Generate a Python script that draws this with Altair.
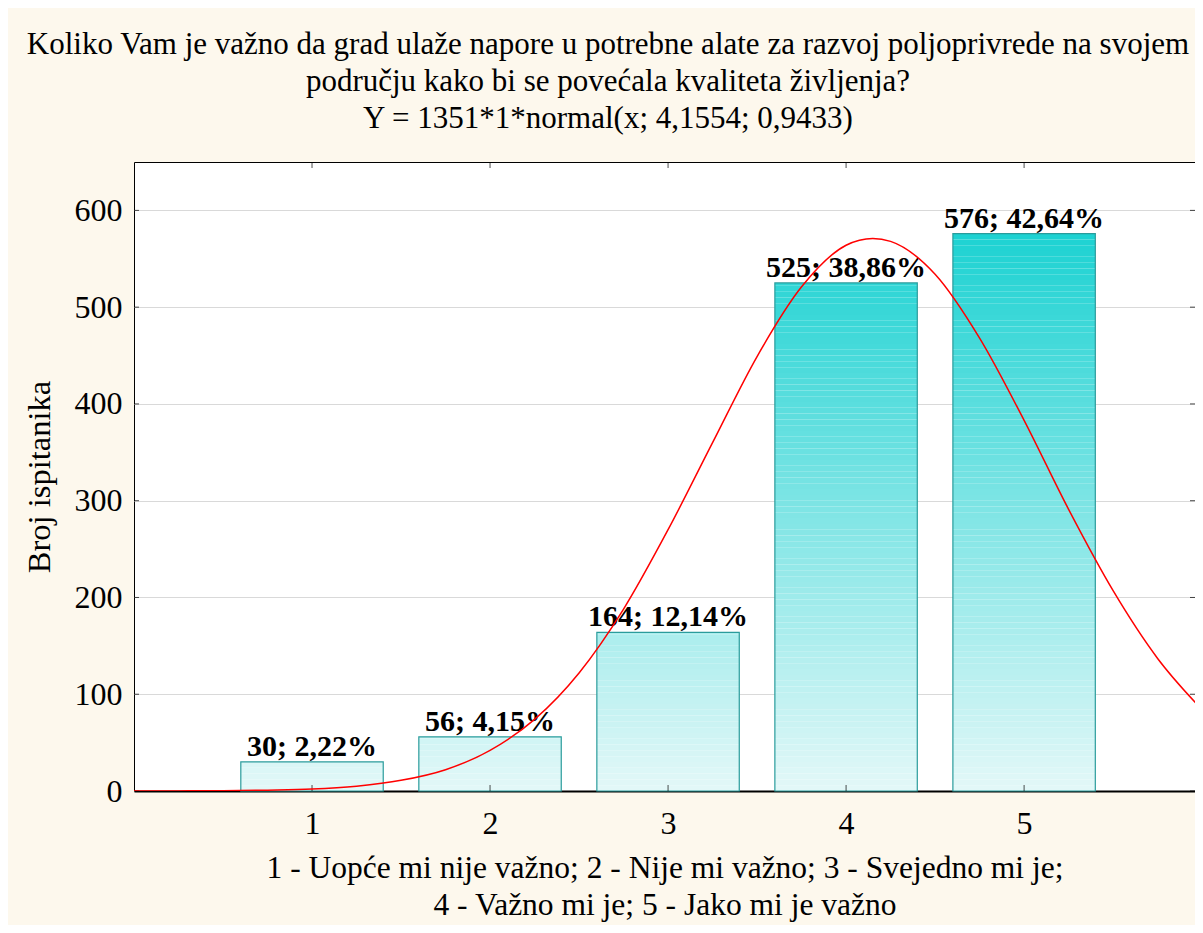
import altair as alt
import pandas as pd

# ---- data ----
categories = [1, 2, 3, 4, 5]
counts = [30, 56, 164, 525, 576]
bar_labels = ["30; 2,22%", "56; 4,15%", "164; 12,14%", "525; 38,86%", "576; 42,64%"]
y_ticks = [0, 100, 200, 300, 400, 500, 600]

# fitted normal curve as drawn (estimated points)
curve_x = [0, 0.25, 0.5, 0.75, 1, 1.25, 1.5, 1.75, 2, 2.25, 2.5, 2.75, 3, 3.25,
           3.5, 3.75, 4, 4.15, 4.25, 4.5, 4.75, 5, 5.25, 5.5, 5.75, 6]
curve_y = [0.0, 0.1, 0.3, 0.9, 2, 5, 11, 22, 42, 74, 122, 188, 270, 360,
           449, 521, 564, 571, 568, 534, 468, 383, 291, 207, 137, 84]

title_lines = [
    "Koliko Vam je važno da grad ulaže napore u potrebne alate za razvoj poljoprivrede na svojem",
    "području kako bi se povećala kvaliteta življenja?",
    "Y = 1351*1*normal(x; 4,1554; 0,9433)",
]
x_title = ["1 - Uopće mi nije važno; 2 - Nije mi važno; 3 - Svejedno mi je;",
           "4 - Važno mi je; 5 - Jako mi je važno"]
y_title = "Broj ispitanika"

FONT = "Liberation Serif"
HALF = 0.4
BAND = 6
X_MAX = 5.96

bars = pd.DataFrame({"cat": categories, "count": counts, "label": bar_labels})
bars["x0"] = bars["cat"] - HALF
bars["x1"] = bars["cat"] + HALF

# gradient bands (each bar split into thin horizontal slices)
rows = []
for c, n in zip(categories, counts):
    lo = 0
    while lo < n:
        hi = min(lo + BAND, n)
        rows.append({"x0": c - HALF, "x1": c + HALF, "y0": lo, "y1": hi, "mid": (lo + hi) / 2})
        lo = hi
bands = pd.DataFrame(rows)

curve = pd.DataFrame({"x": curve_x, "y": curve_y})
yt = pd.DataFrame({"v": y_ticks})

xscale = alt.Scale(domain=[0, X_MAX], nice=False, zero=False)
yscale = alt.Scale(domain=[0, 650], nice=False)

x_axis = alt.Axis(values=categories, format="d", grid=False, ticks=False,
                  labelFont=FONT, labelFontSize=32, labelColor="black", labelPadding=17,
                  domainColor="black", domainWidth=2,
                  title=x_title, titleFont=FONT, titleFontSize=31.5, titleFontWeight="normal",
                  titleColor="black", titlePadding=13, titleLineHeight=37)
y_axis = alt.Axis(values=y_ticks, grid=True, gridColor="#d9d9d9", gridWidth=1.2,
                  ticks=False, domain=False,
                  labelFont=FONT, labelFontSize=32, labelColor="black", labelPadding=12,
                  title=y_title, titleFont=FONT, titleFontSize=32.5, titleFontWeight="normal",
                  titleColor="black", titlePadding=18)

band_layer = alt.Chart(bands).mark_rect().encode(
    x=alt.X("x0:Q", scale=xscale, axis=x_axis),
    x2="x1:Q",
    y=alt.Y("y0:Q", scale=yscale, axis=y_axis),
    y2="y1:Q",
    color=alt.Color("mid:Q", scale=alt.Scale(domain=[0, 576], range=["#e3f8f8", "#1dd2d2"],
                                             interpolate="rgb"), legend=None),
)

outline = alt.Chart(bars).mark_rect(fillOpacity=0, stroke="#2a9c9c", strokeWidth=1.2).encode(
    x="x0:Q", x2="x1:Q", y=alt.Y("count:Q"), y2=alt.datum(0),
)

text = alt.Chart(bars).mark_text(font=FONT, fontSize=30, fontWeight="bold", color="black",
                                 baseline="alphabetic", dy=-6).encode(
    x="cat:Q", y="count:Q", text="label:N",
)

bottom_ticks = alt.Chart(bars).mark_tick(orient="vertical", size=12, thickness=1,
                                         color="black", clip=True).encode(
    x="cat:Q", y=alt.datum(0))
top_ticks = alt.Chart(bars).mark_tick(orient="vertical", size=12, thickness=1,
                                      color="black", clip=True).encode(
    x="cat:Q", y=alt.datum(650))
left_ticks = alt.Chart(yt).mark_tick(orient="horizontal", size=10, thickness=1,
                                     color="black", clip=True).encode(
    y="v:Q", x=alt.datum(0))
right_ticks = alt.Chart(yt).mark_tick(orient="horizontal", size=10, thickness=1,
                                      color="black", clip=True).encode(
    y="v:Q", x=alt.datum(X_MAX))

line = alt.Chart(curve).mark_line(color="#ff0000", strokeWidth=1.5, interpolate="monotone",
                                  clip=True).encode(x="x:Q", y="y:Q")

chart = alt.layer(band_layer, outline, text, bottom_ticks, top_ticks, left_ticks, right_ticks,
                  line).properties(
    width=1061,
    height=629,
    title=alt.TitleParams(text=title_lines, font=FONT, fontSize=31, fontWeight="normal",
                          color="black", lineHeight=37, anchor="middle", frame="bounds",
                          offset=27, dx=-1),
    autosize=alt.AutoSizeParams(type="none"),
    padding={"left": 126, "top": 154, "right": 0, "bottom": 134},
).configure(background="#fdf8ed").configure_view(stroke="black", strokeWidth=1, fill="white")

chart.save("out.html", embed_options={"renderer": "svg", "actions": False})
